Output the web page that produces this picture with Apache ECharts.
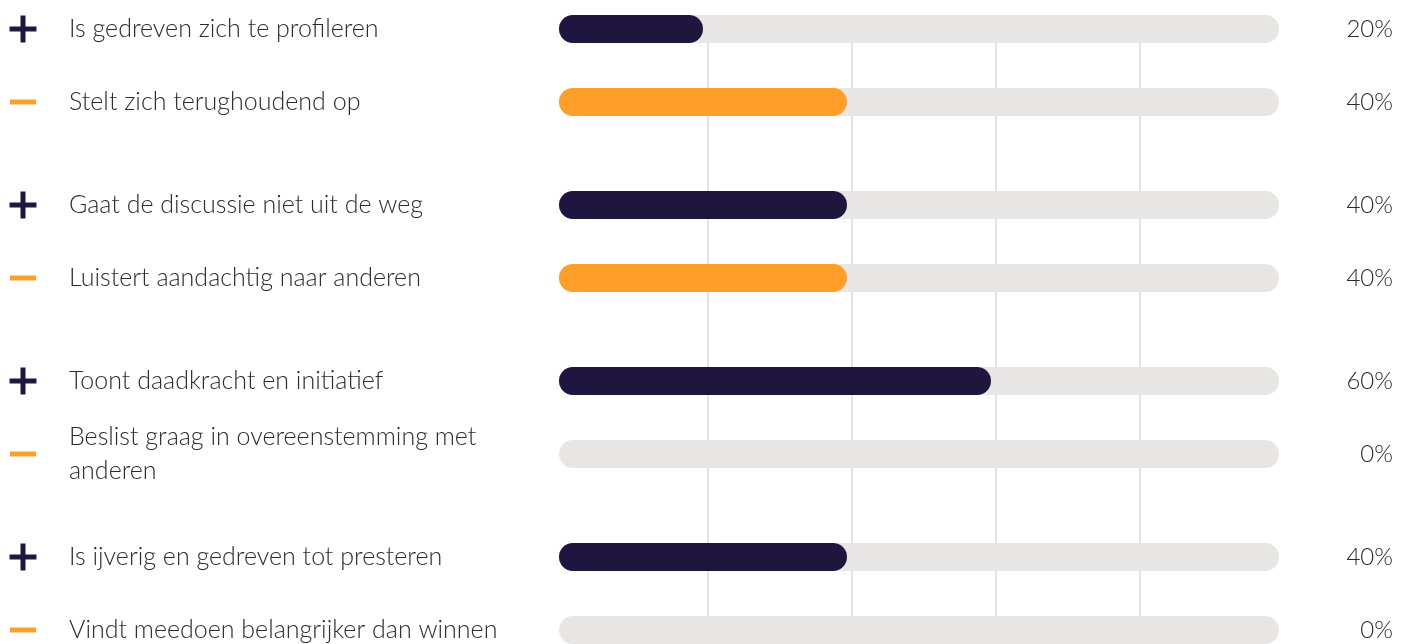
<!DOCTYPE html>
<html>
<head>
<meta charset="utf-8">
<script src="https://cdn.jsdelivr.net/npm/echarts@6/dist/echarts.min.js"></script>
<style>
    html, body {margin: 0; padding: 0; background: #fff;}
    #chart {width: 1413px; height: 644px;}
</style>
</head>
<body>
<div id="chart"></div>
<script>
// rows, top to bottom
var labels = [
    'Is gedreven zich te profileren',
    'Stelt zich terughoudend op',
    'Gaat de discussie niet uit de weg',
    'Luistert aandachtig naar anderen',
    'Toont daadkracht en initiatief',
    'Beslist graag in overeenstemming met\nanderen',
    'Is ijverig en gedreven tot presteren',
    'Vindt meedoen belangrijker dan winnen'
];
var signs = ['+', '-', '+', '-', '+', '-', '+', '-'];
var values = [20, 40, 40, 40, 60, 0, 40, 0];
var gridTicks = [20, 40, 60, 80];

var navy = '#1f1640';
var orange = '#ff9f2a';
var track = '#e8e6e4';
var textColor = '#2a2a30';
var font = 'Lato';

var plus_path = 'path://M11,0H16V27H11Z M0,11H27V16H0Z';

var chart_dom = document.getElementById('chart');
var chart = echarts.init(chart_dom);

var grids = [];
var xAxes = [];
var yAxes = [];
var series = [];

// background grid lines (20..80)
grids.push({left: 708, right: 273, top: 29, bottom: 14, outerBoundsMode: 'none'});
xAxes.push({
    type: 'value', gridIndex: 0,
    min: gridTicks[0], max: gridTicks[gridTicks.length - 1], interval: 20,
    axisLine: {show: false}, axisTick: {show: false}, axisLabel: {show: false},
    splitLine: {show: true, lineStyle: {color: '#e6e4e2', width: 2}}
});
yAxes.push({type: 'value', gridIndex: 0, min: 0, max: 1, show: false});

var pairs = labels.length / 2;
for (var i = 0; i < pairs; i++) {
    var rows = labels.slice(i * 2, i * 2 + 2);
    var vals = values.slice(i * 2, i * 2 + 2);
    var sg = signs.slice(i * 2, i * 2 + 2);
    var pair_top = 29 + 176 * i;

    // bar grid
    var g = grids.length;
    grids.push({left: 559, width: 720, top: pair_top, height: 73, outerBoundsMode: 'none'});
    var xi = xAxes.length;
    xAxes.push({type: 'value', gridIndex: g, min: 0, max: 100, show: false});
    var yText = yAxes.length;
    yAxes.push({
        type: 'category', gridIndex: g, data: rows, inverse: true, boundaryGap: false,
        position: 'left',
        axisLine: {show: false}, axisTick: {show: false}, splitLine: {show: false},
        axisLabel: {
            align: 'left', margin: 490, color: textColor,
            fontFamily: font, fontWeight: 300, fontSize: 25, lineHeight: 34
        }
    });
    (function (v) {
        yAxes.push({
            type: 'category', gridIndex: g, data: rows, inverse: true, boundaryGap: false,
            position: 'right',
            axisLine: {show: false}, axisTick: {show: false}, splitLine: {show: false},
            axisLabel: {
                align: 'right', margin: 114, color: textColor,
                fontFamily: font, fontWeight: 300, fontSize: 24,
                formatter: function (name, idx) {
                    return v[idx] + '%';
                }
            }
        });
    })(vals);

    series.push({
        type: 'bar',
        xAxisIndex: xi,
        yAxisIndex: yText,
        barWidth: 28,
        clip: false,
        showBackground: true,
        backgroundStyle: {color: track, borderRadius: 14},
        data: vals.map(function (v, k) {
            return {
                value: v,
                itemStyle: {color: sg[k] === '+' ? navy : orange, borderRadius: 14}
            };
        }),
        silent: true
    });

    // icon grid
    var gi = grids.length;
    grids.push({left: 10, width: 26, top: pair_top, height: 73, outerBoundsMode: 'none'});
    var xIcon = xAxes.length;
    xAxes.push({type: 'value', gridIndex: gi, min: -1, max: 1, show: false});
    var yIcon = yAxes.length;
    yAxes.push({type: 'category', gridIndex: gi, data: rows, inverse: true, boundaryGap: false, show: false});
    series.push({
        type: 'scatter',
        xAxisIndex: xIcon,
        yAxisIndex: yIcon,
        clip: false,
        silent: true,
        data: sg.map(function (s, k) {
            return {
                value: [0, k],
                symbol: s === '+' ? plus_path : 'rect',
                symbolSize: s === '+' ? [27, 27] : [26, 5],
                itemStyle: {color: s === '+' ? navy : orange, opacity: 1}
            };
        })
    });
}

chart.setOption({
    animation: false,
    grid: grids,
    xAxis: xAxes,
    yAxis: yAxes,
    series: series
});
</script>
</body>
</html>
